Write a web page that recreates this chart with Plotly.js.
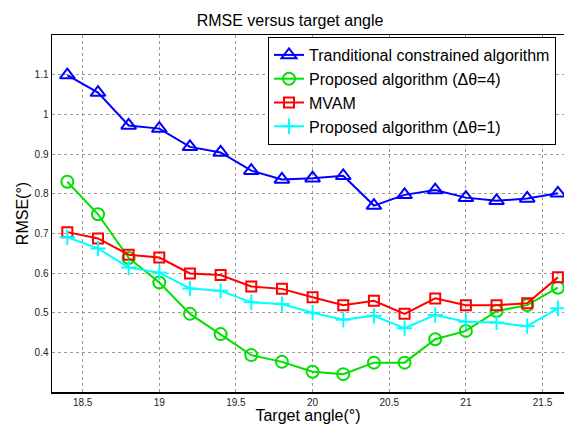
<!DOCTYPE html>
<html>
<head>
<meta charset="utf-8">
<script src="https://cdn.plot.ly/plotly-3.0.1.min.js"></script>
<style>
  html, body { margin: 0; padding: 0; background: #fff; }
  #chart { width: 564px; height: 424px; }
</style>
</head>
<body>
<div id="chart"></div>
<script>
// Target angles (degrees)
const angles = [18.4, 18.6, 18.8, 19.0, 19.2, 19.4, 19.6, 19.8, 20.0, 20.2, 20.4, 20.6, 20.8, 21.0, 21.2, 21.4, 21.6];

// RMSE per method (degrees)
const traditional = [1.099, 1.055, 0.972, 0.964, 0.918, 0.904, 0.858, 0.836, 0.839, 0.845, 0.770, 0.797, 0.809, 0.790, 0.782, 0.788, 0.801];
const proposed4   = [0.830, 0.748, 0.638, 0.576, 0.497, 0.446, 0.393, 0.376, 0.351, 0.345, 0.374, 0.374, 0.433, 0.454, 0.504, 0.519, 0.563];
const mvam        = [0.703, 0.687, 0.646, 0.639, 0.599, 0.595, 0.566, 0.560, 0.539, 0.519, 0.530, 0.497, 0.536, 0.519, 0.519, 0.524, 0.589];
const proposed1   = [0.690, 0.662, 0.614, 0.601, 0.561, 0.555, 0.526, 0.522, 0.500, 0.482, 0.492, 0.461, 0.494, 0.477, 0.475, 0.466, 0.511];

const names = [
  'Tranditional constrained algorithm',
  'Proposed algorithm (\u0394\u03b8=4)',
  'MVAM',
  'Proposed algorithm (\u0394\u03b8=1)'
];

const yTicks = [0.4, 0.5, 0.6, 0.7, 0.8, 0.9, 1.0, 1.1];
const yTickText = ['0.4', '0.5', '0.6', '0.7', '0.8', '0.9', '1', '1.1'];
const xTicks = [18.5, 19, 19.5, 20, 20.5, 21, 21.5];

const FONT = 'Liberation Sans, Arial, Helvetica, sans-serif';

function series(y, name, color, symbol, size) {
  return {
    x: angles, y: y, name: name, type: 'scatter', mode: 'lines+markers',
    line: { color: color, width: 2 },
    marker: { symbol: symbol, size: size, color: color, line: { color: color, width: 2 } }
  };
}

const data = [
  series(traditional, names[0], '#0000ff', 'triangle-up-open', 13),
  series(proposed4,   names[1], '#00e000', 'circle-open', 12),
  series(mvam,        names[2], '#ff0000', 'square-open', 10),
  series(proposed1,   names[3], '#00ffff', 'cross-thin-open', 11)
];

const layout = {
  width: 564, height: 424,
  margin: { l: 52, r: 0, t: 35, b: 32 },
  paper_bgcolor: '#ffffff', plot_bgcolor: '#ffffff',
  font: { family: FONT, size: 10, color: '#000' },
  title: {
    text: 'RMSE versus target angle',
    font: { family: FONT, size: 16, color: '#000' },
    x: 290 / 564, xref: 'container', xanchor: 'center',
    y: 1 - 20 / 424, yref: 'container', yanchor: 'middle'
  },
  xaxis: {
    range: [18.3, 21.64],
    tickvals: xTicks,
    ticktext: xTicks.map(String),
    showgrid: true, gridcolor: '#9a9a9a', griddash: 'dot', gridwidth: 1,
    zeroline: false,
    showline: true, linecolor: '#000', linewidth: 1.5, mirror: true,
    ticks: '', tickfont: { family: FONT, size: 10, color: '#222' },
    title: { text: 'Target angle(\u00b0)', font: { family: FONT, size: 16, color: '#000' }, standoff: 0 }
  },
  yaxis: {
    range: [0.3, 1.2],
    tickvals: yTicks,
    ticktext: yTickText,
    showgrid: true, gridcolor: '#9a9a9a', griddash: 'dot', gridwidth: 1,
    zeroline: false,
    showline: true, linecolor: '#000', linewidth: 1.5,
    ticks: '', tickfont: { family: FONT, size: 10, color: '#222' },
    title: { text: 'RMSE(\u00b0)', font: { family: FONT, size: 16, color: '#000' }, standoff: 2 }
  },
  legend: {
    x: (268 - 52) / 512, xanchor: 'left',
    y: (392 - 37) / 357, yanchor: 'top',
    bgcolor: '#ffffff', bordercolor: '#000', borderwidth: 1,
    font: { family: FONT, size: 16, color: '#000' },
    itemwidth: 30
  },
  showlegend: true
};

Plotly.newPlot('chart', data, layout, { displayModeBar: false, staticPlot: true });
</script>
</body>
</html>
